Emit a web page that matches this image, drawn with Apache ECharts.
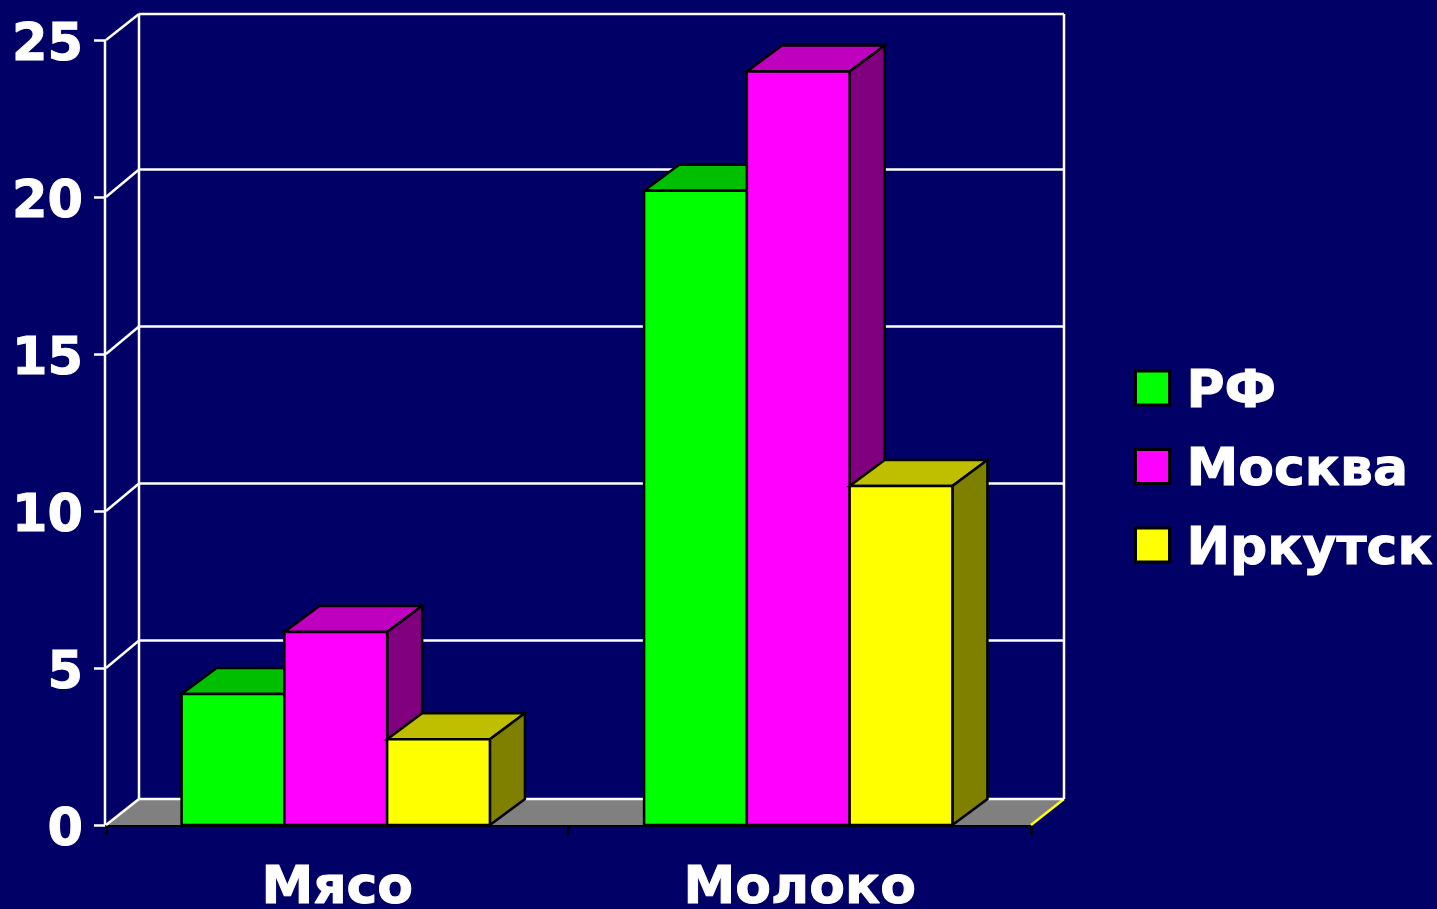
<!DOCTYPE html>
<html><head><meta charset="utf-8">
<style>html,body{margin:0;padding:0;background:#000066;overflow:hidden}#c{width:1437px;height:909px}</style>
<script src="https://cdn.jsdelivr.net/npm/echarts@6/dist/echarts.min.js"></script>
</head><body><div id="c"></div>
<script>
const categories = ['Мясо', 'Молоко'];
const seriesNames = ['РФ', 'Москва', 'Иркутск'];
const rf = [4.17, 20.2];
const moskva = [6.15, 24];
const irkutsk = [2.73, 10.8];
const yTicks = [0, 5, 10, 15, 20, 25];

const FONT = '"DejaVu Sans"';
const wallDx = 33, wallDy = 26, wallDyInner = 27.5, barDx = 35, barDy = 26, barShare = 0.2222, barShift = -1.5;
const looks = [
  {front: '#00ff00', top: '#00bf00', side: '#008000'},
  {front: '#ff00ff', top: '#bf00bf', side: '#800080'},
  {front: '#ffff00', top: '#bfbf00', side: '#808000'}
];

function frameItem(params, api) {
  const cs = params.coordSys;
  const v = api.value(1);
  const y = api.coord([0, v])[1], x0 = cs.x, x1 = cs.x + cs.width;
  const dy = (v === 0 || v === 25) ? wallDy : wallDyInner;
  const line = (a, b, c, d, col) => ({type: 'line', shape: {x1: a, y1: b, x2: c, y2: d}, style: {stroke: col || '#fff', lineWidth: 2.5}});
  const kids = [];
  if (v === 0) {
    kids.push({type: 'polygon', shape: {points: [[x0, y], [x0 + wallDx, y - dy], [x1 + wallDx, y - dy], [x1, y]]}, style: {fill: '#808080'}});
    kids.push(line(x1, y, x1 + wallDx, y - dy, '#ffff00'));
    kids.push(line(x1 + wallDx, y - dy, x1 + wallDx, cs.y - dy));
    kids.push(line(x0 + wallDx, y - dy, x0 + wallDx, cs.y - dy));
    kids.push(line(x0 - 1, y, x0 - 1, cs.y));
  }
  kids.push(line(x0, y, x0 + wallDx, y - dy));
  kids.push(line(x0 + wallDx, y - dy, x1 + wallDx, y - dy));
  return {type: 'group', children: kids};
}

function barItem(idx) {
  return function (params, api) {
    const base = api.coord([api.value(0), 0]);
    const head = api.coord([api.value(0), api.value(1)]);
    const w = api.size([1, 0])[0] * barShare;
    const l = base[0] + (idx - 1.5) * w + barShift, r = l + w, b = base[1], t = head[1];
    const look = looks[idx];
    const edge = {stroke: '#000', lineWidth: 2.5, lineJoin: 'miter'};
    return {type: 'group', children: [
      {type: 'polygon', shape: {points: [[l, t], [l + barDx, t - barDy], [r + barDx, t - barDy], [r, t]]}, style: Object.assign({fill: look.top}, edge)},
      {type: 'polygon', shape: {points: [[r, t], [r + barDx, t - barDy], [r + barDx, b - barDy], [r, b]]}, style: Object.assign({fill: look.side}, edge)},
      {type: 'rect', shape: {x: l, y: t, width: w, height: b - t}, style: Object.assign({fill: look.front}, edge)}
    ]};
  };
}

const valueSets = [rf, moskva, irkutsk];
const heavy = {color: '#fff', fontFamily: FONT, fontWeight: 'bold', textBorderColor: '#fff', textBorderWidth: 1};
const chart = echarts.init(document.getElementById('c'), null, {renderer: 'canvas'});
chart.setOption({
  animation: false,
  backgroundColor: '#000066',
  grid: {left: 106, right: 406, top: 40, bottom: 84, outerBoundsMode: 'none'},
  legend: {
    orient: 'vertical', left: 1129, top: 352, itemWidth: 34, itemHeight: 34, itemGap: 16,
    data: seriesNames, icon: 'rect', selectedMode: false,
    itemStyle: {borderColor: '#000', borderWidth: 3},
    formatter: '{t|{name}}',
    textStyle: {rich: {t: Object.assign({}, heavy, {fontSize: 52, padding: [10, 0, 0, 12], lineHeight: 59})}}
  },
  xAxis: {
    type: 'category', data: categories,
    axisLine: {lineStyle: {color: '#000', width: 2.5}},
    axisTick: {show: true, length: 10, alignWithLabel: false, lineStyle: {color: '#000', width: 2.5}},
    axisLabel: Object.assign({}, heavy, {fontSize: 52, margin: 38})
  },
  yAxis: {
    type: 'value', min: 0, max: 25, interval: 5,
    axisLine: {show: false},
    axisTick: {show: true, length: 12, lineStyle: {color: '#fff', width: 2.5}},
    splitLine: {show: false},
    axisLabel: {margin: 23, formatter: '{n|{value}}', rich: {n: Object.assign({}, heavy, {fontSize: 51, padding: [14, 0, 0, 0]})}}
  },
  series: [
    {type: 'custom', name: 'frame', z: 1, silent: true, renderItem: frameItem, data: yTicks.map(t => [0, t]), encode: {x: 0, y: 1}}
  ].concat(seriesNames.map((n, i) => ({
    type: 'custom', name: n, z: 2 + i, renderItem: barItem(i),
    itemStyle: {color: looks[i].front},
    data: valueSets[i].map((v, k) => [k, v]), encode: {x: 0, y: 1}
  })))
});
</script></body></html>
